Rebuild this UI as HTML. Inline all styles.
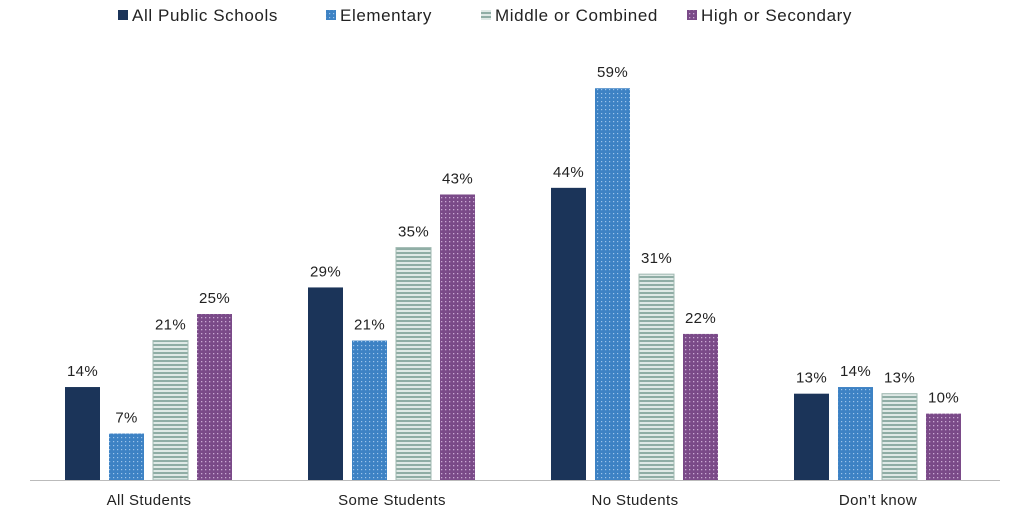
<!DOCTYPE html>
<html><head><meta charset="utf-8"><style>
body{margin:0;background:#fff;font-family:"Liberation Sans",sans-serif}
</style></head><body>
<svg id="c" width="1024" height="512" xmlns="http://www.w3.org/2000/svg">
<defs>
<pattern id="p1" width="4" height="4" patternUnits="userSpaceOnUse"><rect width="4" height="4" fill="#3d82c4"/><rect x="1" y="1" width="1.2" height="1.2" fill="#9cc4ea"/></pattern>
<pattern id="p2" width="4" height="4" patternUnits="userSpaceOnUse"><rect width="4" height="4" fill="#dfe9e6"/><rect y="0" width="4" height="2" fill="#8fada5"/></pattern>
<pattern id="p3" width="4" height="4" patternUnits="userSpaceOnUse"><rect width="4" height="4" fill="#7a4a88"/><rect x="1" y="1" width="1.3" height="1.3" fill="#c9a9d3"/></pattern>
</defs>
<g id="legend"></g>
<g id="bars"></g>
<line x1="30" y1="480.5" x2="1000" y2="480.5" stroke="#bbb"/>
</svg>
<script>
const categories=["All Students","Some Students","No Students","Don\u2019t know"];
const seriesNames=["All Public Schools","Elementary","Middle or Combined","High or Secondary"];
const allPublic=[14,29,44,13];
const elementary=[7,21,59,14];
const middle=[21,35,31,13];
const high=[25,43,22,10];
const series=[allPublic,elementary,middle,high];
const fills=["#1b3459","url(#p1)","url(#p2)","url(#p3)"];
const NS="http://www.w3.org/2000/svg";
const y=v=>480-v*6.64;
const gx=i=>149+i*243;
function mk(t,a,p){const e=document.createElementNS(NS,t);for(const k in a)e.setAttribute(k,a[k]);p.appendChild(e);return e;}
const bars=document.getElementById('bars');
categories.forEach((c,i)=>{
 series.forEach((s,j)=>{
  const x=gx(i)-84+j*44;
  const r=mk('rect',{x:x,y:y(s[i]),width:35,height:480-y(s[i]),fill:fills[j],stroke:j==2?'#9fb8b0':'none'},bars);
  
  
  const t=mk('text',{x:x+17.5,y:y(s[i])-11,'text-anchor':'middle','font-size':15,'letter-spacing':0.3,fill:'#222'},bars);
  t.textContent=s[i]+'%';
  
  
 });
 const l=mk('text',{x:gx(i),y:505,'text-anchor':'middle','font-size':15,'letter-spacing':0.4,fill:'#222'},bars);
 l.textContent=c;
 
 
});
const lg=document.getElementById('legend');
const lx=[118,326,481,687];
seriesNames.forEach((n,j)=>{
 const r=mk('rect',{x:lx[j],y:10,width:10,height:10,fill:fills[j]},lg);
 
 
 const t=mk('text',{x:lx[j]+14,y:21,'font-size':17,'letter-spacing':0.6,fill:'#222'},lg);
 t.textContent=n;
 
 
});
</script>
</body></html>
